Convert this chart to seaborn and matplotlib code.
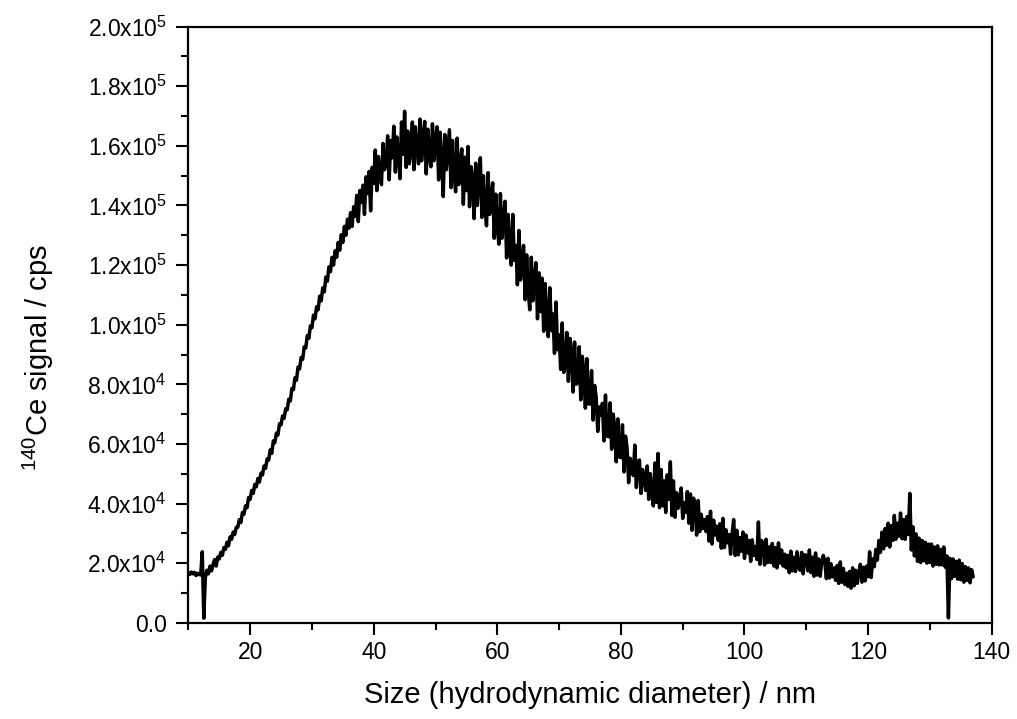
import numpy as np
import pandas as pd
import matplotlib
matplotlib.use("Agg")
import matplotlib.pyplot as plt
from matplotlib.ticker import MultipleLocator, FuncFormatter
import seaborn as sns

# ---- data ----
# size grid: 10.00 ... 137.00 nm in 0.25 nm steps
size_start = 10.0
size_stop = 137.0
size_step = 0.25

# 140Ce signal in units of 1e3 cps; one row per nm (x.00, x.25, x.50, x.75)
signal_kcps = [
    16.8, 16.2, 17.0, 16.4,     # 10
    16.9, 15.8, 16.6, 16.2,     # 11
    16.0, 23.8, 1.5, 15.2,      # 12
    17.6, 16.4, 19.0, 17.4,     # 13
    19.6, 21.2, 19.0, 22.0,     # 14
    21.4, 23.6, 22.6, 25.2,     # 15
    24.6, 27.0, 25.8, 28.8,     # 16
    28.0, 30.4, 29.6, 32.0,     # 17
    32.0, 34.6, 33.6, 37.0,     # 18
    36.4, 39.2, 38.6, 42.0,     # 19
    41.4, 44.4, 43.4, 46.4,     # 20
    45.6, 48.4, 47.2, 50.2,     # 21
    49.6, 52.6, 51.8, 55.0,     # 22
    54.6, 58.0, 56.8, 61.0,     # 23
    60.4, 63.6, 63.0, 66.8,     # 24
    66.4, 69.4, 68.6, 71.8,     # 25
    71.4, 75.0, 74.4, 78.6,     # 26
    78.2, 82.2, 81.4, 85.8,     # 27
    85.2, 89.0, 88.4, 92.6,     # 28
    92.2, 96.4, 95.4, 99.6,     # 29
    99.0, 103.2, 102.0, 106.0,  # 30
    105.0, 109.6, 108.0, 112.4,  # 31
    111.0, 116.0, 114.6, 119.4,  # 32
    117.8, 122.6, 120.0, 124.8,  # 33
    122.6, 127.6, 125.0, 130.2,  # 34
    127.6, 133.0, 130.0, 135.4,  # 35
    132.4, 137.6, 133.0, 139.6,  # 36
    136.4, 143.4, 134.6, 145.0,  # 37
    141.0, 146.8, 137.0, 149.6,  # 38
    144.0, 151.4, 138.2, 152.8,  # 39
    147.4, 158.6, 145.0, 156.4,  # 40
    150.6, 147.0, 160.8, 152.0,  # 41
    154.0, 163.4, 148.6, 161.8,  # 42
    156.0, 166.6, 151.2, 163.0,  # 43
    156.6, 149.0, 168.0, 157.2,  # 44
    171.6, 152.8, 165.0, 154.0,  # 45
    158.6, 168.0, 152.0, 166.4,  # 46
    158.4, 154.0, 169.0, 155.0,  # 47
    163.0, 168.2, 150.6, 165.6,  # 48
    157.0, 153.0, 167.4, 155.0,  # 49
    162.0, 166.4, 148.6, 164.6,  # 50
    155.0, 143.0, 163.8, 152.0,  # 51
    158.6, 165.4, 146.0, 161.8,  # 52
    151.0, 144.6, 162.6, 147.0,  # 53
    154.0, 159.0, 140.4, 156.2,  # 54
    145.0, 159.8, 139.6, 153.0,  # 55
    149.0, 135.6, 154.2, 140.0,  # 56
    148.4, 156.0, 136.0, 150.0,  # 57
    140.0, 133.2, 151.0, 137.0,  # 58
    142.6, 147.6, 129.0, 143.8,  # 59
    132.6, 127.0, 144.0, 129.0,  # 60
    135.6, 141.4, 122.4, 137.0,  # 61
    125.6, 120.0, 137.0, 121.6,  # 62
    126.6, 113.4, 131.6, 115.0,  # 63
    121.6, 126.6, 108.4, 123.4,  # 64
    111.4, 105.0, 122.6, 108.0,  # 65
    115.6, 120.8, 102.0, 117.4,  # 66
    104.4, 115.6, 97.8, 113.8,   # 67
    101.4, 96.0, 112.4, 98.0,    # 68
    103.6, 90.4, 107.6, 91.6,    # 69
    96.6, 85.0, 100.6, 84.0,     # 70
    86.4, 97.4, 81.0, 95.4,      # 71
    90.6, 77.4, 94.2, 80.0,      # 72
    80.4, 92.6, 74.8, 89.4,      # 73
    84.6, 72.0, 88.6, 73.4,      # 74
    73.4, 84.6, 68.0, 79.6,      # 75
    75.6, 64.2, 72.4, 69.6,      # 76
    73.6, 61.0, 76.4, 62.6,      # 77
    62.4, 73.8, 58.2, 70.0,      # 78
    65.6, 54.0, 68.4, 55.6,      # 79
    55.4, 66.4, 50.6, 62.6,      # 80
    58.6, 47.0, 55.2, 52.0,      # 81
    49.4, 59.6, 45.4, 54.2,      # 82
    54.6, 43.4, 51.4, 48.6,      # 83
    44.4, 52.6, 41.4, 50.0,      # 84
    43.4, 39.2, 53.6, 40.4,      # 85
    56.8, 38.6, 51.4, 39.2,      # 86
    47.6, 37.0, 49.6, 41.4,      # 87
    54.0, 36.0, 47.6, 35.4,      # 88
    43.6, 38.4, 41.2, 45.2,      # 89
    35.0, 40.2, 37.0, 44.0,      # 90
    33.4, 43.2, 31.0, 41.8,      # 91
    39.6, 29.4, 41.0, 30.6,      # 92
    36.4, 31.6, 34.6, 30.6,      # 93
    35.6, 27.4, 37.4, 26.4,      # 94
    34.4, 29.4, 32.4, 27.6,      # 95
    33.2, 25.0, 35.0, 25.2,      # 96
    31.2, 26.8, 29.6, 23.0,      # 97
    30.0, 34.6, 22.6, 31.0,      # 98
    22.8, 28.6, 24.0, 30.4,      # 99
    21.6, 29.4, 23.4, 27.6,      # 100
    20.6, 27.8, 22.6, 25.6,      # 101
    21.2, 33.8, 19.6, 27.6,      # 102
    26.4, 19.4, 28.0, 20.2,      # 103
    25.4, 20.2, 26.6, 19.0,      # 104
    25.2, 18.4, 26.8, 20.0,      # 105
    24.4, 19.0, 23.0, 18.4,      # 106
    22.6, 16.8, 24.0, 17.4,      # 107
    22.0, 17.2, 23.8, 18.6,      # 108
    17.6, 23.6, 16.4, 22.8,      # 109
    22.6, 17.4, 24.4, 16.8,      # 110
    22.0, 15.6, 23.4, 16.0,      # 111
    21.4, 15.6, 20.4, 22.6,      # 112
    20.4, 14.8, 21.6, 15.0,      # 113
    19.8, 15.4, 18.4, 14.2,      # 114
    19.2, 13.2, 20.4, 13.6,      # 115
    18.2, 12.8, 16.6, 12.2,      # 116
    17.2, 11.6, 18.4, 12.4,      # 117
    17.6, 13.2, 16.8, 19.6,      # 118
    13.6, 18.6, 14.0, 19.0,      # 119
    15.4, 23.8, 15.2, 21.4,      # 120
    18.8, 24.6, 21.0, 27.6,      # 121
    23.6, 30.4, 24.8, 31.6,      # 122
    26.0, 33.4, 25.4, 32.6,      # 123
    27.6, 36.0, 28.0, 33.4,      # 124
    29.0, 36.8, 28.2, 34.6,      # 125
    28.0, 35.6, 29.6, 43.4,      # 126
    24.4, 32.2, 22.4, 29.8,      # 127
    20.6, 28.4, 20.2, 27.6,      # 128
    20.8, 27.0, 20.0, 26.4,      # 129
    20.2, 26.4, 19.0, 25.4,      # 130
    19.6, 25.8, 19.4, 24.6,      # 131
    19.4, 25.4, 18.6, 22.4,      # 132
    1.6, 21.6, 14.8, 21.4,       # 133
    15.6, 20.6, 14.6, 21.0,      # 134
    14.4, 19.8, 13.6, 18.8,      # 135
    14.2, 18.4, 13.4, 17.8,      # 136
    15.4,                        # 137
]

size_nm = np.arange(size_start, size_stop + size_step / 2, size_step)
n = min(len(size_nm), len(signal_kcps))
df = pd.DataFrame({"size": size_nm[:n], "signal": np.array(signal_kcps[:n]) * 1e3})

x_ticks = [20, 40, 60, 80, 100, 120, 140]
x_label = "Size (hydrodynamic diameter) / nm"
y_label = "$^{140}$Ce signal / cps"

# ---- style ----
sns.set_theme(style="ticks")
plt.rcParams["font.family"] = ["Liberation Sans", "DejaVu Sans"]
plt.rcParams["mathtext.fontset"] = "custom"
plt.rcParams["mathtext.rm"] = "Liberation Sans"
plt.rcParams["mathtext.it"] = "Liberation Sans:italic"
plt.rcParams["mathtext.bf"] = "Liberation Sans:bold"

fig = plt.figure(figsize=(10.17, 7.19), dpi=100)
ax = fig.add_axes([0.1852, 0.1339, 0.9751 - 0.1852, 0.9629 - 0.1339])

sns.lineplot(data=df, x="size", y="signal", color="black", linewidth=2.5,
             estimator=None, sort=False, ax=ax)

ax.set_xlim(10, 140)
ax.set_ylim(0, 2.0e5)
ax.set_xticks(x_ticks)
ax.xaxis.set_minor_locator(MultipleLocator(10))
ax.yaxis.set_major_locator(MultipleLocator(2e4))
ax.yaxis.set_minor_locator(MultipleLocator(1e4))


def sci_fmt(v, pos):
    if abs(v) < 1e-9:
        return "0.0"
    e = int(np.floor(np.log10(abs(v)) + 1e-9))
    m = v / 10 ** e
    return f"{m:.1f}x10$^{{{e}}}$"


ax.yaxis.set_major_formatter(FuncFormatter(sci_fmt))

for s in ax.spines.values():
    s.set_linewidth(1.6)
    s.set_color("black")
    s.set_visible(True)

ax.tick_params(axis="both", which="major", direction="out", length=8.5, width=1.5,
               labelsize=16.5, color="black", labelcolor="black",
               top=False, right=False)
ax.tick_params(axis="both", which="minor", direction="out", length=5, width=1.5,
               color="black", top=False, right=False)
ax.tick_params(axis="x", which="major", pad=5)
ax.tick_params(axis="y", which="major", pad=7)

ax.set_xlabel(x_label, fontsize=21, color="black")
ax.set_ylabel(y_label, fontsize=21, color="black")
ax.xaxis.set_label_coords(0.5, -0.098)
ax.yaxis.set_label_coords(-0.165, 0.445)
ax.grid(False)

fig.savefig("out.png", dpi=100, facecolor="white")
